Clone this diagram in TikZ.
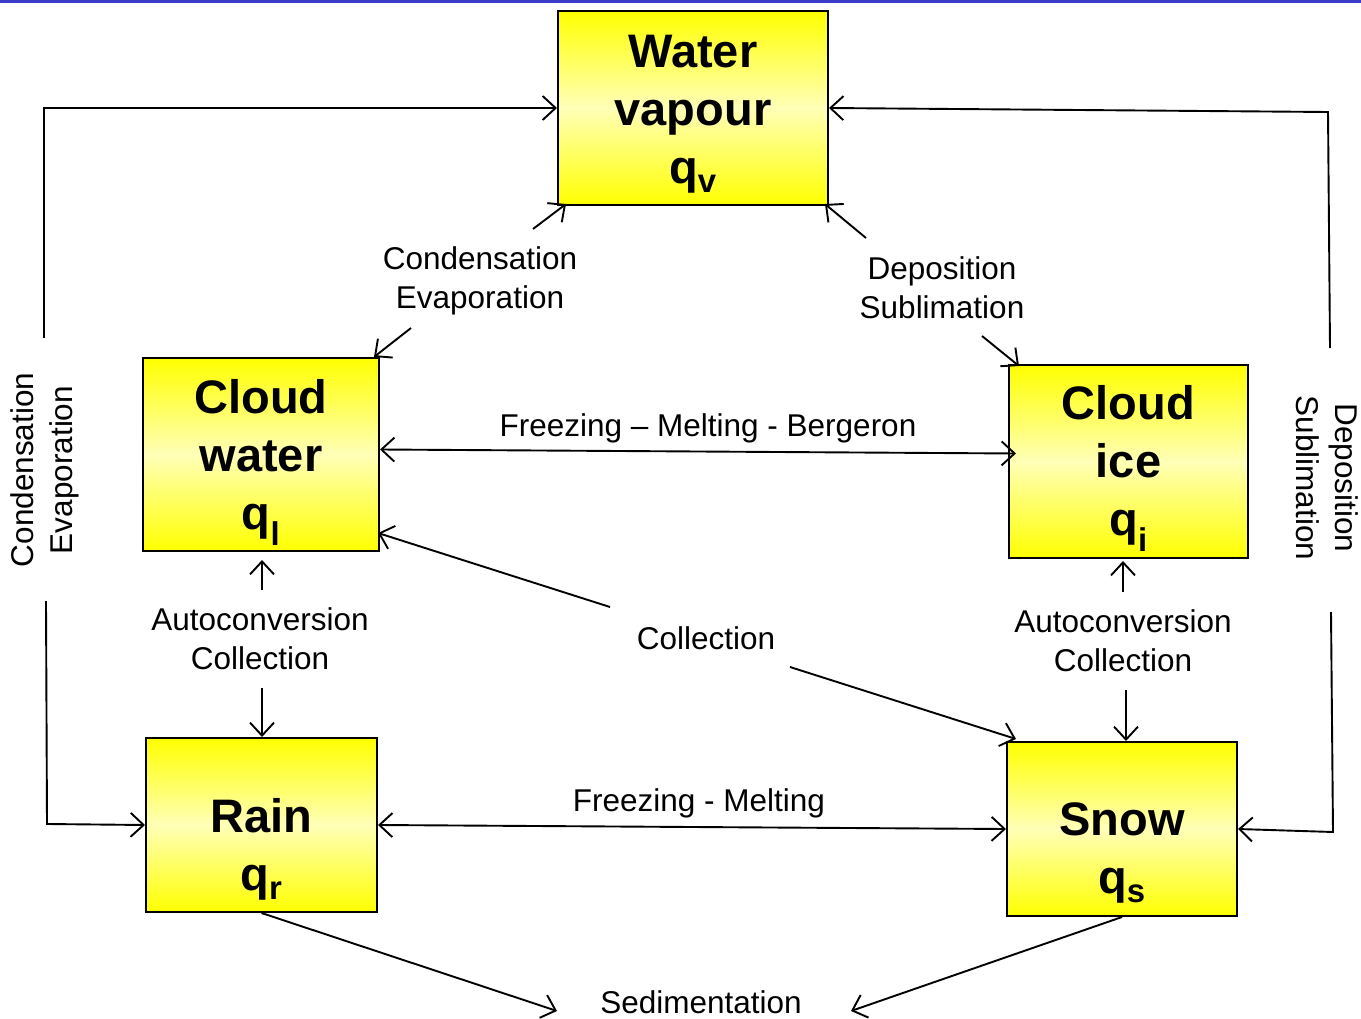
\documentclass[tikz,border=0pt]{standalone}
\usepackage{fontspec}
\setmainfont{Liberation Sans}
\usetikzlibrary{arrows.meta,calc}
\begin{document}
\begin{tikzpicture}[x=1pt,y=-1pt,
  box/.style={draw=black, line width=2pt, top color=yellow, bottom color=yellow, middle color=yellow!28, inner sep=0pt},
  ttl/.style={align=center, inner sep=0pt, font=\fontsize{47}{58}\selectfont\bfseries},
  lbl/.style={align=center, inner sep=0pt, font=\fontsize{31.5}{39}\selectfont},
  arr/.style={line width=1.9pt, -{Straight Barb[length=13pt,width=24pt,line width=1.9pt]}},
  darr/.style={line width=1.9pt, {Straight Barb[length=13pt,width=24pt,line width=1.9pt]}-{Straight Barb[length=13pt,width=24pt,line width=1.9pt]}}]
\useasboundingbox (0,0) rectangle (1361,1019);
\draw[line width=2.5pt, draw={rgb,255:red,60;green,60;blue,200}] (0,1.5) -- (1361,1.5);

% boxes
\node[box, minimum width=270pt, minimum height=194pt] (wv) at (693,108) {};
\node[box, minimum width=236pt, minimum height=193pt] (cw) at (261,454.5) {};
\node[box, minimum width=239pt, minimum height=193pt] (ci) at (1128.5,461.5) {};
\node[box, minimum width=231pt, minimum height=174pt] (rain) at (261.5,825) {};
\node[box, minimum width=230pt, minimum height=174pt] (snow) at (1122,829) {};

% box titles
\node[ttl] (wvt) at ($(wv.center)+(0,6)$) {Water\\vapour\\q\textsubscript{v}};
\node[ttl] (cwt) at ($(cw.center)+(0,8)$) {Cloud\\water\\q\textsubscript{l}};
\node[ttl] (cit) at ($(ci.center)+(0,7)$) {Cloud\\ice\\q\textsubscript{i}};
\node[ttl] (raint) at ($(rain.center)+(0,24)$) {Rain\\q\textsubscript{r}};
\node[ttl] (snowt) at ($(snow.center)+(0,24)$) {Snow\\q\textsubscript{s}};

% labels
\node[lbl] (lce) at (480,281) {Condensation\\Evaporation};
\node[lbl] (lds) at (942,288) {Deposition\\Sublimation};
\node[lbl, anchor=base] (lfmb) at (708,436) {Freezing – Melting - Bergeron};
\node[lbl] (lcol) at (706,638) {Collection};
\node[lbl] (lacl) at (260,639) {Autoconversion\\Collection};
\node[lbl] (lacr) at (1123,641) {Autoconversion\\Collection};
\node[lbl, anchor=base] (lfm) at (699,811) {Freezing - Melting};
\node[lbl] (lsed) at (701,1002) {Sedimentation};
\node[lbl, rotate=90] (lvl) at (45,470) {Condensation\\Evaporation};
\node[lbl, rotate=-90] (lvr) at (1327,478) {Deposition\\Sublimation};

% free ends
\coordinate (a1) at (533,229);
\coordinate (a2) at (411,328);
\coordinate (b1) at (866,238);
\coordinate (b2) at (982,336);
\coordinate (c1) at (610,607);
\coordinate (c2) at (790,667);
\coordinate (d1) at (262,590);
\coordinate (d2) at (262,688);
\coordinate (e1) at (1123,592);
\coordinate (e2) at (1126,690);
\coordinate (s1) at (557,1011);
\coordinate (s2) at (851,1011);
\coordinate (l1) at (44,338);
\coordinate (l2) at (46,601);
\coordinate (r1) at (1330,348);
\coordinate (r2) at (1331,612);

% connectors
\draw[arr] (l1) -- (44,108) -- (wv.west);
\draw[arr] (l2) -- (47,824) -- (rain.west);
\draw[arr] (r1) -- (1328,112) -- (wv.east);
\draw[arr] (r2) -- (1333,832) -- (snow.east);

\draw[arr] (a1) -- ($(wv.south west)+(9,-2)$);
\draw[arr] (a2) -- ($(cw.north east)+(-6,0)$);
\draw[arr] (b1) -- ($(wv.south east)+(-4,-2)$);
\draw[arr] (b2) -- ($(ci.north west)+(11,2)$);

\draw[darr] ($(cw.east)+(0,-5)$) -- ($(ci.west)+(8,-8)$);
\draw[darr] (rain.east) -- (snow.west);

\draw[arr] (c1) -- ($(cw.south east)+(-2,-19)$);
\draw[arr] (c2) -- ($(snow.north west)+(10,-2)$);

\draw[arr] (d1) -- ($(cw.south)+(1,8)$);
\draw[arr] (d2) -- (262,737);
\draw[arr] (e1) -- ($(ci.south)+(-5.5,2)$);
\draw[arr] (e2) -- ($(snow.north)+(4,0)$);

\draw[arr] (rain.south) -- (s1);
\draw[arr] (snow.south) -- (s2);
\end{tikzpicture}
\end{document}
